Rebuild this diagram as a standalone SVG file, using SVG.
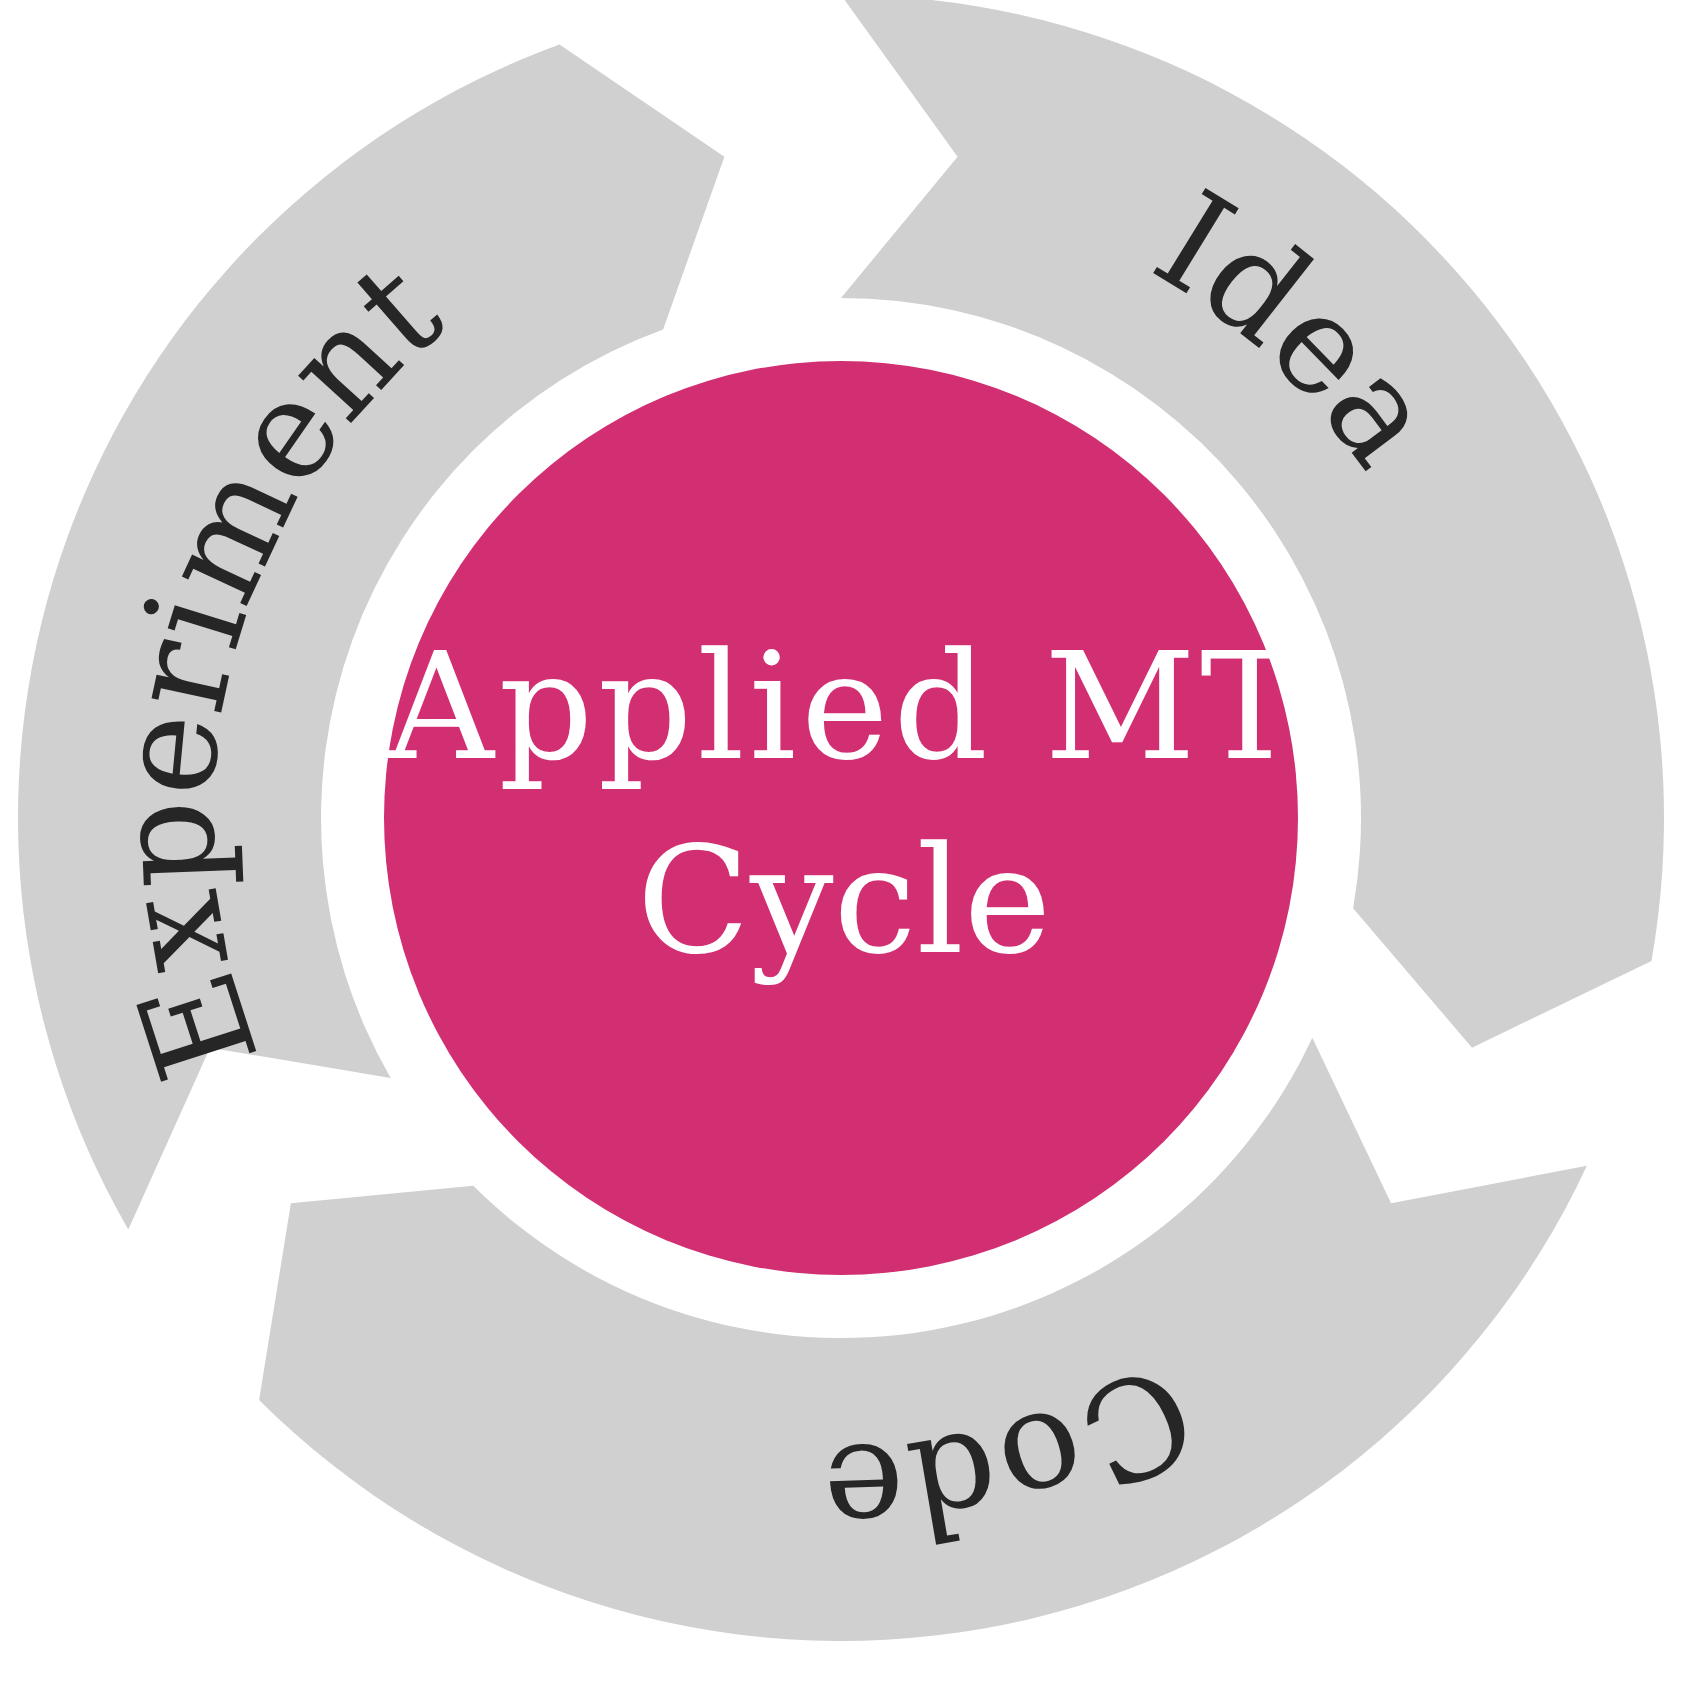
<svg xmlns="http://www.w3.org/2000/svg" width="1700" height="1688" viewBox="0 0 1700 1688">
  <style>
    .seg { fill: #d0d0d0; stroke: none; }
    .seg-label { font-family: "DejaVu Serif", "Liberation Serif", serif; font-size: 137px; fill: #262626; }
    .hub { fill: #d22e72; }
    .hub-label { font-family: "DejaVu Serif", "Liberation Serif", serif; font-size: 148px; fill: #ffffff; text-anchor: middle; }
  </style>
  <defs>
    <!-- clockwise baseline arcs (r = 628) centred on each label -->
    <path id="arc-idea" d="M 463.1 316.5 A 628 628 0 0 1 1367.7 1160.0"/>
    <path id="arc-code" d="M 1467.1 768.7 A 628 628 0 0 1 269.5 1078.4"/>
    <path id="arc-experiment" d="M 580.6 1389.5 A 628 628 0 0 1 890.3 191.9"/>
  </defs>
  <rect width="1700" height="1688" fill="#ffffff"/>

  <!-- ring of three arrow segments, centre (841, 818), r 520..823 -->
  <g id="connectors">
    <path id="seg-idea" class="seg" d="M 841 -5 A 823 823 0 0 1 1651.5 960.9 L 1472.0 1047.7 L 1353.1 908.3 A 520 520 0 0 0 841 298 L 957.6 156.7 Z"/>
    <path id="seg-code" class="seg" d="M 1586.9 1165.8 A 823 823 0 0 1 259.1 1399.9 L 290.9 1203.2 L 473.3 1185.7 A 520 520 0 0 0 1312.3 1037.8 L 1391.1 1203.2 Z"/>
    <path id="seg-experiment" class="seg" d="M 128.3 1229.5 A 823 823 0 0 1 559.5 44.6 L 724.4 156.7 L 663.1 329.4 A 520 520 0 0 0 390.7 1078 L 210.0 1047.7 Z"/>
  </g>

  <g id="node-idea">
    <text class="seg-label"><textPath href="#arc-idea" startOffset="50%" text-anchor="middle">Idea</textPath></text>
  </g>
  <g id="node-code">
    <text class="seg-label"><textPath href="#arc-code" startOffset="50%" text-anchor="middle">Code</textPath></text>
  </g>
  <g id="node-experiment">
    <text class="seg-label"><textPath href="#arc-experiment" startOffset="50%" text-anchor="middle">Experiment</textPath></text>
  </g>

  <g id="node-hub">
    <circle class="hub" cx="841" cy="818" r="457"/>
    <text class="hub-label" x="843" y="758" textLength="912" lengthAdjust="spacing">Applied MT</text>
    <text class="hub-label" x="844" y="952">Cycle</text>
  </g>
</svg>
